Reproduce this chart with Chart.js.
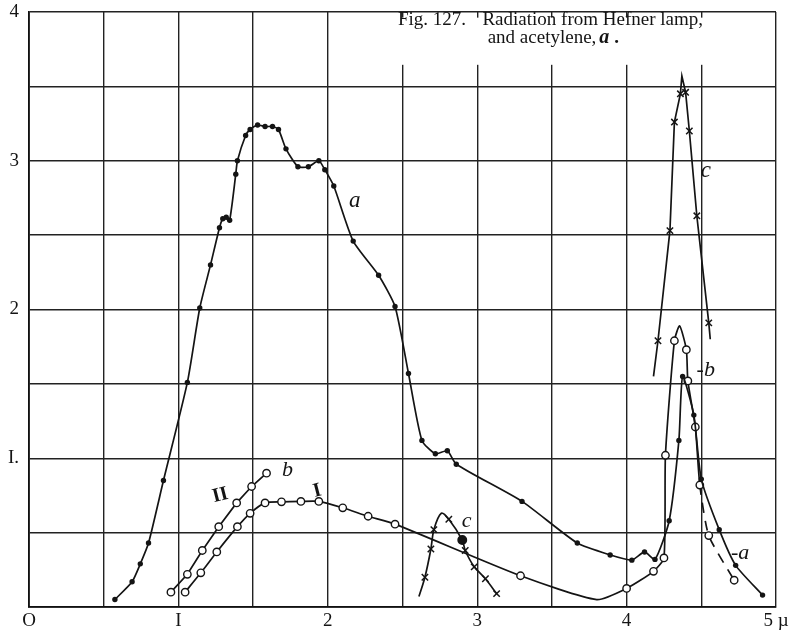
<!DOCTYPE html>
<html>
<head>
<meta charset="utf-8">
<script src="https://cdn.jsdelivr.net/npm/chart.js@4.4.1/dist/chart.umd.min.js"></script>
<style>
  html, body { margin: 0; padding: 0; background: #fff; }
</style>
</head>
<body>
<canvas id="myChart" width="807" height="640"></canvas>
<script>
// wave-length in microns (x) against radiation (y)
const aX = [0.575, 0.69, 0.745, 0.80, 0.90, 1.06, 1.143, 1.215, 1.275, 1.297, 1.32, 1.343, 1.384, 1.395, 1.45, 1.48,
            1.53, 1.58, 1.63, 1.67, 1.72, 1.80, 1.87, 1.94, 1.98, 2.04, 2.17, 2.34, 2.45, 2.54, 2.63, 2.72, 2.80, 2.86,
            3.30, 3.67, 3.89, 4.035, 4.12, 4.19, 4.285, 4.35, 4.375, 4.45, 4.50, 4.62, 4.73, 4.91];
const aY = [0.05, 0.17, 0.29, 0.43, 0.85, 1.51, 2.01, 2.30, 2.55, 2.61, 2.62, 2.60, 2.91, 3.00, 3.17, 3.21,
            3.24, 3.23, 3.23, 3.21, 3.08, 2.96, 2.96, 3.00, 2.94, 2.83, 2.46, 2.23, 2.02, 1.57, 1.12, 1.03, 1.05, 0.96,
            0.71, 0.43, 0.35, 0.315, 0.37, 0.32, 0.58, 1.12, 1.55, 1.29, 0.86, 0.52, 0.28, 0.08];

const bIX = [1.045, 1.15, 1.257, 1.395, 1.48, 1.58, 1.69, 1.82, 1.94, 2.10, 2.27, 2.45, 3.29, 3.80, 4.00, 4.18,
             4.25, 4.26, 4.32, 4.355, 4.40, 4.41, 4.46, 4.49, 4.55, 4.72];
const bIY = [0.10, 0.23, 0.37, 0.54, 0.63, 0.70, 0.707, 0.71, 0.71, 0.667, 0.61, 0.557, 0.21, 0.05, 0.125, 0.24,
             0.33, 1.02, 1.79, 1.89, 1.73, 1.52, 1.21, 0.82, 0.48, 0.18];
const bINoMark = [13, 19];

const bIIX = [0.95, 1.06, 1.16, 1.27, 1.39, 1.49, 1.59];
const bIIY = [0.10, 0.22, 0.38, 0.54, 0.70, 0.81, 0.90];

const c1X = [2.61, 2.65, 2.69, 2.71, 2.76, 2.81, 2.90, 2.92, 2.98, 3.055, 3.13];
const c1Y = [0.07, 0.20, 0.39, 0.52, 0.63, 0.59, 0.45, 0.38, 0.27, 0.19, 0.09];
const c1NoMark = [0, 4];
const c1Dot = 6;

const c2X = [4.18, 4.21, 4.29, 4.32, 4.36, 4.37, 4.395, 4.42, 4.47, 4.55, 4.56];
const c2Y = [1.55, 1.79, 2.53, 3.26, 3.45, 3.57, 3.46, 3.20, 2.63, 1.91, 1.80];
const c2NoMark = [0, 5, 10];

const xTickText = { 0: 'O', 1: 'I', 2: '2', 3: '3', 4: '4', 5: '5 µ' };
const yTickText = { 1: 'I.', 2: '2', 3: '3', 4: '4' };

const serif = '"Liberation Serif", "DejaVu Serif", serif';
const ink = '#141414';

function pts(xs, ys) {
    return xs.map((x, i) => ({ x: x, y: ys[i] }));
}

// curve letters, placed in data units
const notes = [
    { t: 'a',  x: 2.18, y: 2.73, f: 'italic 23px ' + serif },
    { t: 'c',  x: 4.53, y: 2.93, f: 'italic 23px ' + serif },
    { t: '-b', x: 4.53, y: 1.59, f: 'italic 22px ' + serif },
    { t: 'c',  x: 2.93, y: 0.58, f: 'italic 22px ' + serif },
    { t: '-a', x: 4.76, y: 0.36, f: 'italic 22px ' + serif },
    { t: 'b',  x: 1.73, y: 0.92, f: 'italic 22px ' + serif },
    { t: 'II', x: 1.28, y: 0.75, f: 'bold 20px ' + serif, r: -0.25 },
    { t: 'I',  x: 1.93, y: 0.78, f: 'bold 20px ' + serif, r: -0.25 }
];

const plateText = {
    id: 'plateText',
    beforeDatasetsDraw(chart) {
        const c = chart.ctx, sx = chart.scales.x, sy = chart.scales.y;
        // the caption sits on a white patch over the grid
        c.save();
        c.fillStyle = '#fff';
        const x0 = sx.getPixelForValue(2.25), x1 = sx.getPixelForValue(4.985);
        const y0 = sy.getPixelForValue(3.962), y1 = sy.getPixelForValue(3.645);
        c.fillRect(x0, y0, x1 - x0, y1 - y0);
        c.fillStyle = ink;
        c.textBaseline = 'alphabetic';
        c.font = '19px ' + serif;
        c.fillText('Fig. 127.', sx.getPixelForValue(2.47), sy.getPixelForValue(3.91));
        c.fillText('Radiation from Hefner lamp,', sx.getPixelForValue(3.035), sy.getPixelForValue(3.91));
        let lx = sx.getPixelForValue(3.07);
        const ly = sy.getPixelForValue(3.79);
        c.fillText('and acetylene,', lx, ly);
        lx += c.measureText('and acetylene,').width + 3;
        c.font = 'bold italic 20px ' + serif;
        c.fillText('a', lx, ly);
        lx += c.measureText('a').width + 5;
        c.font = 'bold 19px ' + serif;
        c.fillText('.', lx, ly);
        c.restore();
    },
    afterDatasetsDraw(chart) {
        const c = chart.ctx, sx = chart.scales.x, sy = chart.scales.y;
        c.save();
        c.fillStyle = ink;
        c.textAlign = 'center';
        c.textBaseline = 'middle';
        notes.forEach(n => {
            c.save();
            c.translate(sx.getPixelForValue(n.x), sy.getPixelForValue(n.y));
            if (n.r) c.rotate(n.r);
            c.font = n.f;
            c.fillText(n.t, 0, 0);
            c.restore();
        });
        c.restore();
    }
};

const openCircle = {
    pointStyle: 'circle',
    pointBackgroundColor: '#fff',
    pointBorderColor: ink,
    pointBorderWidth: 1.4
};

const data = {
    datasets: [
        {
            label: 'a',
            data: pts(aX, aY),
            borderColor: ink,
            borderWidth: 1.7,
            tension: 0.2,
            pointStyle: 'circle',
            pointRadius: 2.7,
            pointBackgroundColor: ink,
            pointBorderColor: ink,
            pointBorderWidth: 0
        },
        Object.assign({
            label: 'b I',
            data: pts(bIX, bIY),
            borderColor: ink,
            borderWidth: 1.7,
            tension: 0.2,
            pointRadius: ctx => bINoMark.includes(ctx.dataIndex) ? 0 : 3.7,
            segment: {
                borderDash: ctx => ctx.p0.parsed.x >= 4.48 ? [10, 8] : undefined
            }
        }, openCircle),
        Object.assign({
            label: 'b II',
            data: pts(bIIX, bIIY),
            borderColor: ink,
            borderWidth: 1.7,
            tension: 0,
            pointRadius: 3.7
        }, openCircle),
        {
            label: 'c',
            data: pts(c1X, c1Y),
            borderColor: ink,
            borderWidth: 1.7,
            tension: 0.3,
            pointStyle: ctx => ctx.dataIndex === c1Dot ? 'circle' : 'crossRot',
            pointRadius: ctx => c1NoMark.includes(ctx.dataIndex) ? 0 : (ctx.dataIndex === c1Dot ? 4.2 : 4.5),
            pointBackgroundColor: ink,
            pointBorderColor: ink,
            pointBorderWidth: 1.5
        },
        {
            label: 'c',
            data: pts(c2X, c2Y),
            borderColor: ink,
            borderWidth: 1.7,
            tension: 0,
            pointStyle: 'crossRot',
            pointRadius: ctx => c2NoMark.includes(ctx.dataIndex) ? 0 : 4.5,
            pointBorderColor: ink,
            pointBorderWidth: 1.5
        }
    ]
};

const gridStyle = {
    color: '#222',
    lineWidth: 1.4,
    drawTicks: false
};

const config = {
    type: 'scatter',
    data: data,
    plugins: [plateText],
    options: {
        responsive: false,
        animation: false,
        showLine: true,
        layout: { padding: { top: 12, right: 31, left: 0, bottom: 0 } },
        plugins: {
            legend: { display: false },
            tooltip: { enabled: false }
        },
        scales: {
            x: {
                type: 'linear',
                min: 0,
                max: 5,
                grid: gridStyle,
                border: { color: '#111', width: 1.8 },
                ticks: {
                    stepSize: 0.5,
                    autoSkip: false,
                    maxRotation: 0,
                    padding: 3,
                    color: ink,
                    font: { family: serif, size: 19 },
                    callback: v => xTickText[v] || ''
                },
                afterFit: scale => {
                    scale.height = 33;
                    scale.paddingLeft = 0;
                    scale.paddingRight = 0;
                }
            },
            y: {
                min: 0,
                max: 4,
                grid: gridStyle,
                border: { color: '#111', width: 1.8 },
                ticks: {
                    stepSize: 0.5,
                    autoSkip: false,
                    padding: 10,
                    color: ink,
                    font: { family: serif, size: 19 },
                    callback: v => yTickText[v] || ''
                },
                afterFit: scale => {
                    scale.width = 29;
                    scale.paddingTop = 0;
                    scale.paddingBottom = 0;
                }
            }
        }
    }
};

const ctx = document.getElementById('myChart').getContext('2d');
const radiationChart = new Chart(ctx, config);
</script>
</body>
</html>
